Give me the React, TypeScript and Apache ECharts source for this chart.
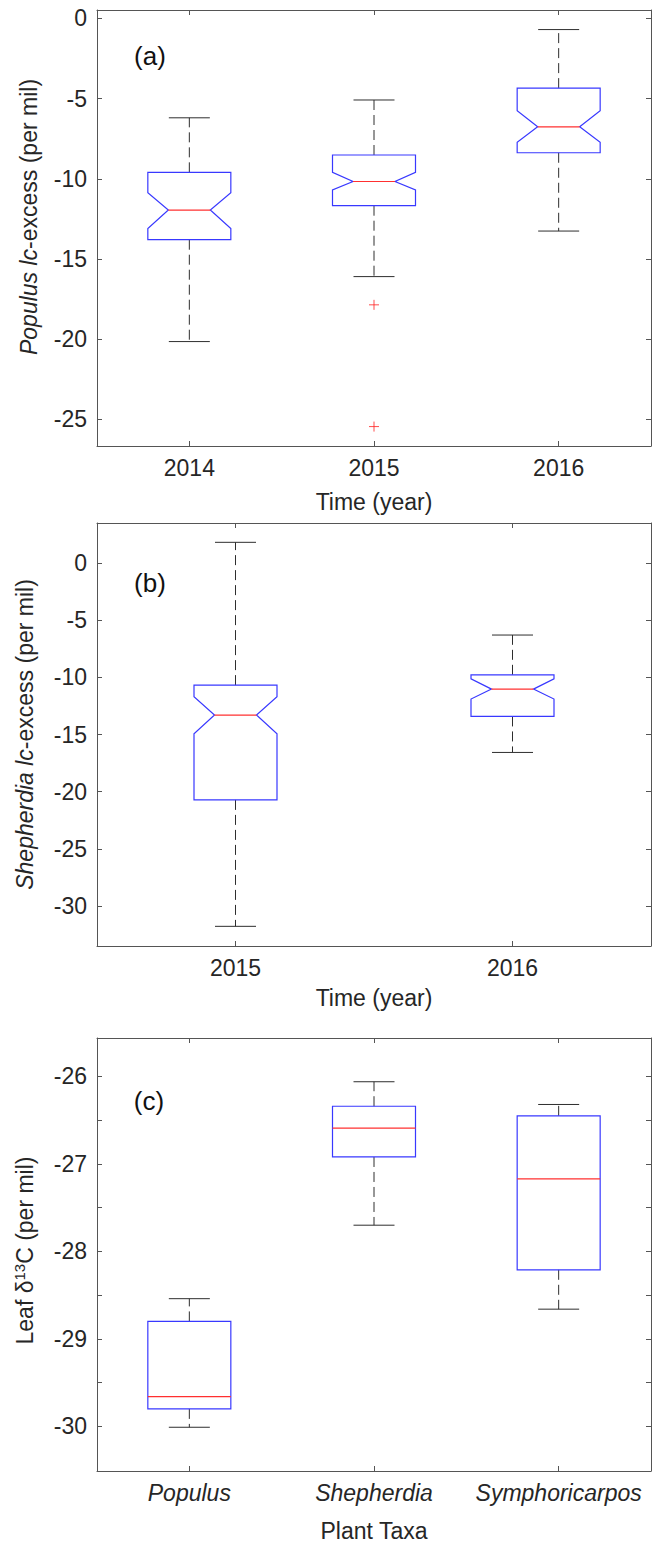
import React, { useEffect, useRef } from 'react';
import * as echarts from 'echarts';

// ---------- Panel (a): Populus lc-excess by year ----------
const yearsA = ['2014', '2015', '2016'];
const lowA = [-20.15, -16.1, -13.26];
const q1A = [-13.8, -11.68, -8.38];
const medA = [-11.95, -10.17, -6.76];
const q3A = [-9.6, -8.52, -4.35];
const highA = [-6.2, -5.09, -0.7];
const notchLowA = [-13.1, -10.69, -7.73];
const notchHighA = [-10.87, -9.6, -5.76];
const outlierCatA = ['2015', '2015'];
const outlierValA = [-17.86, -25.45];
const ticksA = [-25, -20, -15, -10, -5, 0];

// ---------- Panel (b): Shepherdia lc-excess by year ----------
const yearsB = ['2015', '2016'];
const lowB = [-31.78, -16.57];
const q1B = [-20.72, -13.42];
const medB = [-13.3, -11.03];
const q3B = [-10.68, -9.78];
const highB = [1.81, -6.3];
const notchLowB = [-14.94, -11.9];
const notchHighB = [-11.7, -10.13];
const ticksB = [-30, -25, -20, -15, -10, -5, 0];

// ---------- Panel (c): Leaf d13C by plant taxa ----------
const taxaC = ['Populus', 'Shepherdia', 'Symphoricarpos'];
const lowC = [-30.01, -27.7, -28.66];
const q1C = [-29.8, -26.92, -28.21];
const medC = [-29.66, -26.59, -27.17];
const q3C = [-28.8, -26.34, -26.45];
const highC = [-28.54, -26.06, -26.32];
const ticksC = [-30, -29.5, -29, -28.5, -28, -27.5, -27, -26.5, -26];
const labelsC = [-30, -29, -28, -27, -26];

const FONT = '"Liberation Sans", Arial, Helvetica, sans-serif';
const AXIS = '#555555';
const TXT = '#262626';
const BOX = '#3838ff';
const MED = '#ff3030';
const WHISK = '#2e2e2e';

function makeRender(notched: boolean) {
  return (params: any, api: any) => {
    const i = api.value(0);
    const v = (k: number) => api.value(k);
    const cx = api.coord([i, v(3)])[0];
    const py = (val: number) => api.coord([i, val])[1];
    const yLow = py(v(1));
    const yQ1 = py(v(2));
    const yMed = py(v(3));
    const yQ3 = py(v(4));
    const yHigh = py(v(5));
    const bw = 41.5;
    const cw = 20.5;
    const nw = 21;
    const L = cx - bw;
    const R = cx + bw;
    const whiskerStyle = { stroke: WHISK, lineWidth: 1, lineDash: [10, 5] };
    const capStyle = { stroke: WHISK, lineWidth: 1 };
    const children: any[] = [
      { type: 'line', shape: { x1: cx, y1: yQ3, x2: cx, y2: yHigh }, style: whiskerStyle },
      { type: 'line', shape: { x1: cx, y1: yQ1, x2: cx, y2: yLow }, style: whiskerStyle },
      { type: 'line', shape: { x1: cx - cw, y1: yHigh, x2: cx + cw, y2: yHigh }, style: capStyle },
      { type: 'line', shape: { x1: cx - cw, y1: yLow, x2: cx + cw, y2: yLow }, style: capStyle },
    ];
    let pts: number[][];
    let mx: number;
    if (notched) {
      const yNL = py(v(6));
      const yNH = py(v(7));
      pts = [
        [L, yQ3], [R, yQ3], [R, yNH], [cx + nw, yMed], [R, yNL],
        [R, yQ1], [L, yQ1], [L, yNL], [cx - nw, yMed], [L, yNH],
      ];
      mx = nw;
    } else {
      pts = [[L, yQ3], [R, yQ3], [R, yQ1], [L, yQ1]];
      mx = bw;
    }
    children.push({
      type: 'polygon',
      shape: { points: pts },
      style: { stroke: BOX, fill: 'rgba(0,0,0,0)', lineWidth: 1.2 },
    });
    children.push({
      type: 'line',
      shape: { x1: cx - mx, y1: yMed, x2: cx + mx, y2: yMed },
      style: { stroke: MED, lineWidth: 1.2 },
    });
    return { type: 'group', children };
  };
}

const italicRich = {
  n: { fontSize: 23, fontFamily: FONT, color: TXT },
  i: { fontSize: 23, fontFamily: FONT, color: TXT, fontStyle: 'italic' },
  sup: { fontSize: 15, fontFamily: FONT, color: TXT, padding: [0, 0, 11, 0] },
};

function xAxes(gridIndex: number, data: string[], labelItalic: boolean, name: string, nameGap: number, labelMargin: number) {
  return [
    {
      type: 'category',
      gridIndex,
      data,
      position: 'bottom',
      boundaryGap: true,
      axisLine: { show: true, onZero: false, lineStyle: { color: AXIS, width: 1 } },
      axisTick: { show: true, inside: true, length: 5, alignWithLabel: true, lineStyle: { color: AXIS } },
      axisLabel: {
        show: true,
        interval: 0,
        fontSize: 23,
        fontFamily: FONT,
        color: TXT,
        margin: labelMargin,
        fontStyle: labelItalic ? 'italic' : 'normal',
      },
      splitLine: { show: false },
      name,
      nameLocation: 'middle',
      nameGap,
      nameTextStyle: { fontSize: 23, fontFamily: FONT, color: TXT },
    },
    {
      type: 'category',
      gridIndex,
      data,
      position: 'top',
      boundaryGap: true,
      axisLine: { show: true, onZero: false, lineStyle: { color: AXIS, width: 1 } },
      axisTick: { show: true, inside: true, length: 5, alignWithLabel: true, interval: 0, lineStyle: { color: AXIS } },
      axisLabel: { show: false },
      splitLine: { show: false },
    },
  ];
}

function yAxes(gridIndex: number, min: number, max: number, ticks: number[], labels: number[], name: string, nameGap: number, namePadding: number[]) {
  return [
    {
      type: 'value',
      gridIndex,
      position: 'left',
      min,
      max,
      axisLine: { show: true, onZero: false, lineStyle: { color: AXIS, width: 1 } },
      axisTick: { show: true, inside: true, length: 5, customValues: ticks, lineStyle: { color: AXIS } },
      axisLabel: {
        show: true,
        customValues: labels,
        fontSize: 23,
        fontFamily: FONT,
        color: TXT,
        margin: 10,
        formatter: (val: number) => String(val),
      },
      splitLine: { show: false },
      name,
      nameLocation: 'middle',
      nameGap,
      nameRotate: 90,
      nameTextStyle: { fontSize: 23, fontFamily: FONT, color: TXT, rich: italicRich, padding: namePadding },
    },
    {
      type: 'value',
      gridIndex,
      position: 'right',
      min,
      max,
      axisLine: { show: true, onZero: false, lineStyle: { color: AXIS, width: 1 } },
      axisTick: { show: true, inside: true, length: 5, customValues: ticks, lineStyle: { color: AXIS } },
      axisLabel: { show: false },
      splitLine: { show: false },
    },
  ];
}

function boxData(cats: string[], low: number[], q1: number[], med: number[], q3: number[], high: number[], nl?: number[], nh?: number[]) {
  return cats.map((_, i) => {
    const row = [i, low[i], q1[i], med[i], q3[i], high[i]];
    if (nl && nh) row.push(nl[i], nh[i]);
    return row;
  });
}

export default function App() {
  const ref = useRef<HTMLDivElement>(null);

  useEffect(() => {
    if (!ref.current) return;
    const chart = echarts.init(ref.current, undefined, { renderer: 'svg' });

    const option: any = {
      animation: false,
      backgroundColor: '#ffffff',
      grid: [
        { left: 97, right: 2, top: 10, height: 436 },
        { left: 97, right: 2, top: 523, height: 423 },
        { left: 97, right: 2, top: 1038, height: 433 },
      ],
      xAxis: [
        ...xAxes(0, yearsA, false, 'Time (year)', 44, 10),
        ...xAxes(1, yearsB, false, 'Time (year)', 40, 10),
        ...xAxes(2, taxaC, true, 'Plant Taxa', 48, 10),
      ],
      yAxis: [
        ...yAxes(0, -26.66, 0.52, ticksA, ticksA, '{i|Populus} {i|lc}{n|-excess (per mil)}', 57, [0, 0, 0, 22]),
        ...yAxes(1, -33.5, 3.5, ticksB, ticksB, '{i|Shepherdia} {i|lc}{n|-excess (per mil)}', 61, [0, 0, 0, 0]),
        ...yAxes(2, -30.51, -25.56, ticksC, labelsC, '{n|Leaf δ}{sup|13}{n|C (per mil)}', 59, [0, 0, 0, 8]),
      ],
      graphic: [
        { type: 'text', x: 150, y: 56, style: { text: '(a)', fontSize: 26, fontFamily: FONT, fill: '#111', align: 'center', verticalAlign: 'middle' } },
        { type: 'text', x: 150, y: 583, style: { text: '(b)', fontSize: 26, fontFamily: FONT, fill: '#111', align: 'center', verticalAlign: 'middle' } },
        { type: 'text', x: 149, y: 1101, style: { text: '(c)', fontSize: 26, fontFamily: FONT, fill: '#111', align: 'center', verticalAlign: 'middle' } },
      ],
      series: [
        {
          type: 'custom',
          xAxisIndex: 0,
          yAxisIndex: 0,
          renderItem: makeRender(true),
          encode: { x: 0, y: [1, 2, 3, 4, 5] },
          data: boxData(yearsA, lowA, q1A, medA, q3A, highA, notchLowA, notchHighA),
          silent: true,
        },
        {
          type: 'scatter',
          xAxisIndex: 0,
          yAxisIndex: 0,
          symbol: 'path://M5,0 L5,10 M0,5 L10,5',
          symbolSize: 10,
          itemStyle: { color: 'rgba(0,0,0,0)', borderColor: '#ff2020', borderWidth: 1 },
          data: outlierCatA.map((c, k) => [c, outlierValA[k]]),
          silent: true,
        },
        {
          type: 'custom',
          xAxisIndex: 2,
          yAxisIndex: 2,
          renderItem: makeRender(true),
          encode: { x: 0, y: [1, 2, 3, 4, 5] },
          data: boxData(yearsB, lowB, q1B, medB, q3B, highB, notchLowB, notchHighB),
          silent: true,
        },
        {
          type: 'custom',
          xAxisIndex: 4,
          yAxisIndex: 4,
          renderItem: makeRender(false),
          encode: { x: 0, y: [1, 2, 3, 4, 5] },
          data: boxData(taxaC, lowC, q1C, medC, q3C, highC),
          silent: true,
        },
      ],
    };

    chart.setOption(option);
    return () => {
      chart.dispose();
    };
  }, []);

  return (
    <div
      ref={ref}
      style={{ position: 'absolute', left: 0, top: 0, width: 653, height: 1547, background: '#fff' }}
    />
  );
}
